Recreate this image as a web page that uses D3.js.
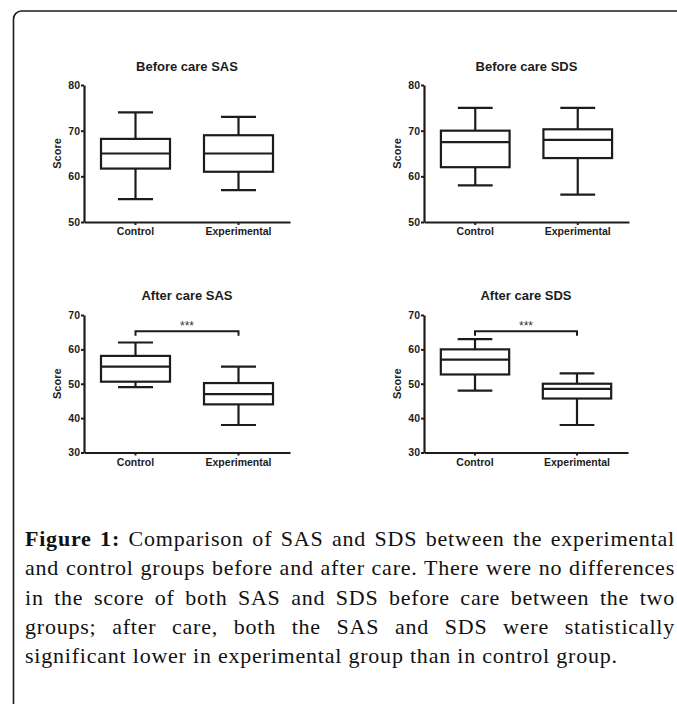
<!DOCTYPE html>
<html>
<head>
<meta charset="utf-8">
<script src="https://cdn.jsdelivr.net/npm/d3@7"></script>
<style>
  html, body { margin: 0; padding: 0; background: #fff; }
  svg { display: block; }
</style>
</head>
<body>
<script>
// ---------------- data ----------------
const categories = ["Control", "Experimental"];
// [min, Q1, median, Q3, max]
const beforeSAS = [[55, 61.7, 65, 68.2, 74], [57, 61, 65, 69, 73]];
const beforeSDS = [[58, 62, 67.5, 70, 75], [56, 64, 68, 70.3, 75]];
const afterSAS  = [[49, 50.6, 55, 58.1, 62], [38, 44, 47, 50.2, 55]];
const afterSDS  = [[48, 52.7, 57, 60, 63], [38, 45.7, 48.5, 50, 53]];
const titles = ["Before care SAS", "Before care SDS", "After care SAS", "After care SDS"];
const beforeDomain = [50, 80];
const afterDomain = [30, 70];
const beforeTicks = [50, 60, 70, 80];
const afterTicks = [30, 40, 50, 60, 70];
const yLabel = "Score";
const sigLabel = "***";
const sigLevel = 65.3;
const captionBold = "Figure 1:";
const captionLines = [
  " Comparison of SAS and SDS between the experimental",
  "and control groups before and after care. There were no differences",
  "in the score of both SAS and SDS before care between the two",
  "groups; after care, both the SAS and SDS were statistically",
  "significant lower in experimental group than in control group."
];

// ---------------- drawing ----------------
const W = 677, H = 704;
const ink = "#1c1c1c";
const sans = "'Liberation Sans', Arial, Helvetica, sans-serif";
const serif = "'Liberation Serif', 'Times New Roman', serif";

const svg = d3.select("body").append("svg").attr("width", W).attr("height", H);
svg.append("rect").attr("width", W).attr("height", H).attr("fill", "#fff");

// frame (rounded top-left corner)
svg.append("path")
  .attr("d", "M13.5,704 L13.5,19 A8,8 0 0 1 21.5,11 L677,11")
  .attr("fill", "none").attr("stroke", ink).attr("stroke-width", 1.6);

function panel(cfg) {
  const g = svg.append("g");
  const x = d3.scaleBand().domain(categories).range([cfg.x0, cfg.x1]).padding(0);
  const y = d3.scaleLinear().domain(cfg.domain).range([cfg.yBot, cfg.yTop]);
  const bw = x.bandwidth();
  const boxW = bw * 0.67, capW = bw * 0.34;

  // title
  g.append("text")
    .attr("x", (cfg.x0 + cfg.x1) / 2).attr("y", cfg.yTop - cfg.titleGap)
    .attr("text-anchor", "middle")
    .attr("font-family", sans).attr("font-weight", "bold").attr("font-size", 13)
    .attr("fill", ink).text(cfg.title);

  // y axis
  const ya = g.append("g").attr("transform", `translate(${cfg.x0},0)`)
    .call(d3.axisLeft(y).tickValues(cfg.ticks).tickSize(3).tickSizeOuter(0).tickPadding(1));
  // x axis
  const xa = g.append("g").attr("transform", `translate(0,${cfg.yBot})`)
    .call(d3.axisBottom(x).tickSize(3).tickSizeOuter(0).tickPadding(3));
  [ya, xa].forEach(a => {
    a.select(".domain").attr("stroke", ink).attr("stroke-width", 2.2);
    a.selectAll(".tick line").attr("stroke", ink).attr("stroke-width", 2);
    a.selectAll(".tick text").attr("fill", ink)
      .attr("font-family", sans).attr("font-weight", "bold").attr("font-size", 10.5);
  });

  // y label
  g.append("text")
    .attr("transform", `translate(${cfg.x0 - 23},${(cfg.yTop + cfg.yBot) / 2}) rotate(-90)`)
    .attr("text-anchor", "middle")
    .attr("font-family", sans).attr("font-weight", "bold").attr("font-size", 11)
    .attr("fill", ink).text(yLabel);

  // boxes
  categories.forEach((c, i) => {
    const [mn, q1, md, q3, mx] = cfg.data[i];
    const cx = x(c) + bw / 2;
    const bg = g.append("g").attr("stroke", ink).attr("stroke-width", 2.2).attr("fill", "none");
    bg.append("line").attr("x1", cx).attr("x2", cx).attr("y1", y(mx)).attr("y2", y(q3));
    bg.append("line").attr("x1", cx).attr("x2", cx).attr("y1", y(q1)).attr("y2", y(mn));
    bg.append("line").attr("x1", cx - capW / 2).attr("x2", cx + capW / 2).attr("y1", y(mx)).attr("y2", y(mx));
    bg.append("line").attr("x1", cx - capW / 2).attr("x2", cx + capW / 2).attr("y1", y(mn)).attr("y2", y(mn));
    bg.append("rect").attr("x", cx - boxW / 2).attr("width", boxW)
      .attr("y", y(q3)).attr("height", y(q1) - y(q3)).attr("fill", "#fff");
    bg.append("line").attr("x1", cx - boxW / 2).attr("x2", cx + boxW / 2).attr("y1", y(md)).attr("y2", y(md));
  });

  // significance bracket
  if (cfg.sig) {
    const xa1 = x(categories[0]) + bw / 2, xa2 = x(categories[1]) + bw / 2;
    const yb = y(sigLevel), drop = y(sigLevel - 1.3);
    g.append("path")
      .attr("d", `M${xa1},${drop} L${xa1},${yb} L${xa2},${yb} L${xa2},${drop}`)
      .attr("fill", "none").attr("stroke", ink).attr("stroke-width", 2);
    g.append("text")
      .attr("x", (xa1 + xa2) / 2).attr("y", yb - 1.5)
      .attr("text-anchor", "middle")
      .attr("font-family", sans).attr("font-size", 12).attr("fill", "#333")
      .text(sigLabel);
  }
}

panel({ x0: 84, x1: 290, yTop: 85, yBot: 222, domain: beforeDomain, ticks: beforeTicks, data: beforeSAS, title: titles[0], titleGap: 14, sig: false });
panel({ x0: 424, x1: 629, yTop: 85, yBot: 222, domain: beforeDomain, ticks: beforeTicks, data: beforeSDS, title: titles[1], titleGap: 14, sig: false });
panel({ x0: 84, x1: 290, yTop: 315, yBot: 452.5, domain: afterDomain, ticks: afterTicks, data: afterSAS, title: titles[2], titleGap: 15, sig: true });
panel({ x0: 424, x1: 628, yTop: 315, yBot: 452.5, domain: afterDomain, ticks: afterTicks, data: afterSDS, title: titles[3], titleGap: 15, sig: true });

// ---------------- caption (justified) ----------------
const capX = 25, capRight = 675, capW = capRight - capX;
const lastW = 592;
const base0 = 546, lh = 29.3;
const fs = 22;
const lines = captionLines.map((t, i) => {
  const tx = svg.append("text")
    .attr("x", capX).attr("y", base0 + i * lh)
    .attr("font-family", serif).attr("font-size", fs).attr("fill", "#111")
    .attr("xml:space", "preserve");
  if (i === 0) tx.append("tspan").attr("font-weight", "bold").text(captionBold);
  tx.append("tspan").text(t);
  return tx;
});
// letter spacing from last (non-justified) line
const last = lines[lines.length - 1];
const nat = last.node().getComputedTextLength();
const nChars = captionLines[captionLines.length - 1].length;
let ls = (lastW - nat) / (nChars - 1);
ls = Math.max(0, Math.min(1.5, ls));
lines.forEach(l => l.attr("letter-spacing", ls));
// word spacing for justified lines
lines.forEach((l, i) => {
  if (i === lines.length - 1) return;
  const w = l.node().getComputedTextLength();
  const full = (i === 0 ? captionBold : "") + captionLines[i];
  const spaces = (full.match(/ /g) || []).length;
  const ws = (capW - w) / spaces;
  l.attr("word-spacing", ws);
});
</script>
</body>
</html>
